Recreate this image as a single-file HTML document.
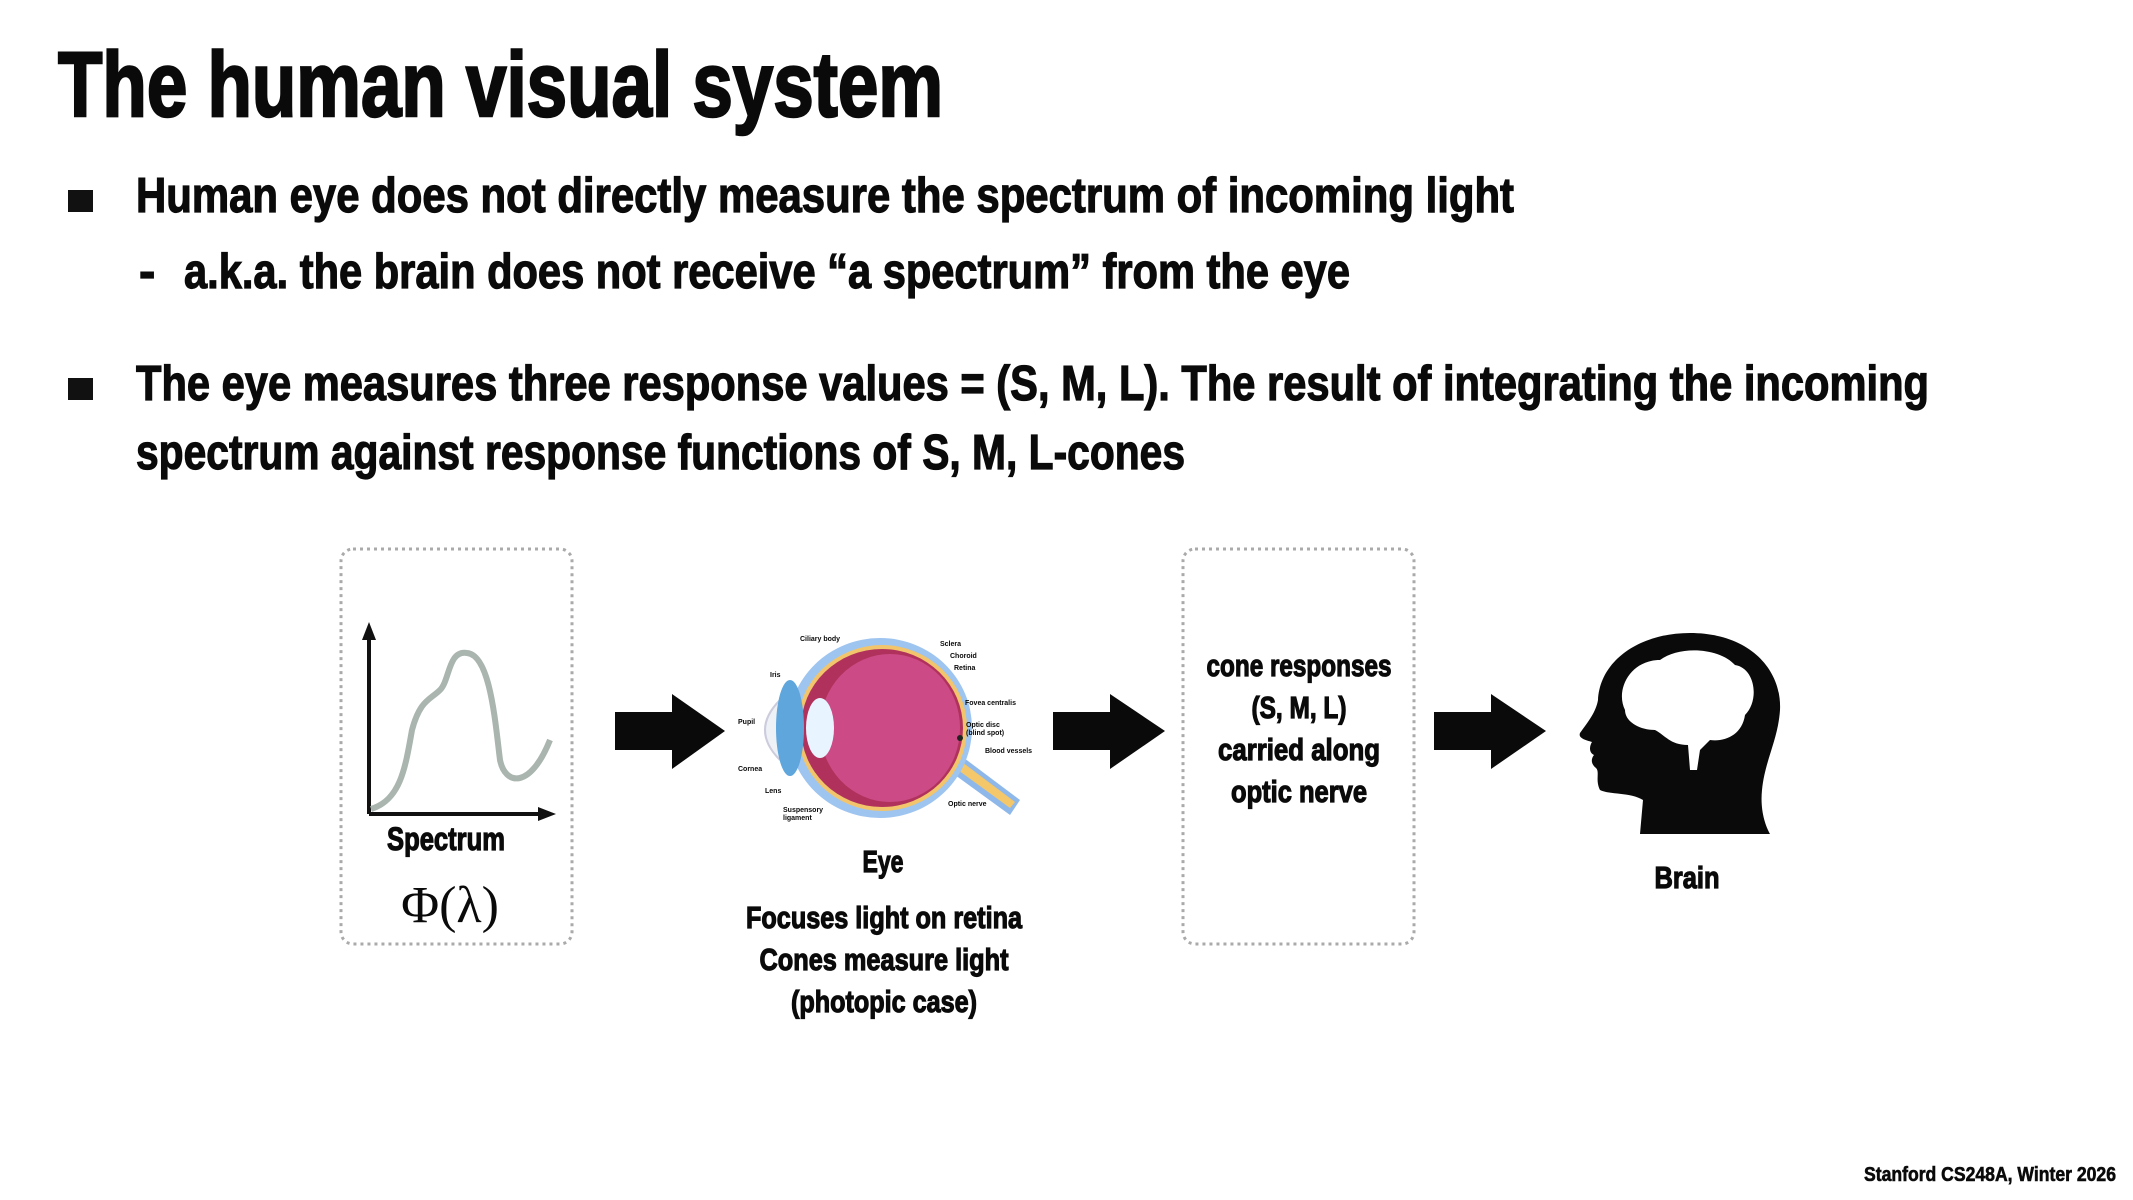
<!DOCTYPE html>
<html><head><meta charset="utf-8"><style>
html,body{margin:0;padding:0;background:#fff;}
svg{display:block;}
text{font-family:"Liberation Sans Narrow","Liberation Sans",sans-serif;font-weight:bold;fill:#0a0a0a;}
.b{stroke:#0a0a0a;stroke-width:1.2px;}
.t{stroke:#0a0a0a;stroke-width:2.5px;}
</style></head><body>
<svg width="2133" height="1200" viewBox="0 0 2133 1200" xmlns="http://www.w3.org/2000/svg">
<text class="t" x="58" y="116" font-size="92" textLength="885" lengthAdjust="spacingAndGlyphs">The human visual system</text>
<rect x="68" y="190" width="25" height="22" fill="#111"/>
<text class="b" x="136" y="212" font-size="49" textLength="1378" lengthAdjust="spacingAndGlyphs">Human eye does not directly measure the spectrum of incoming light</text>
<text class="b" x="139" y="288" font-size="49">-</text>
<text class="b" x="184" y="288" font-size="49" textLength="1166" lengthAdjust="spacingAndGlyphs">a.k.a. the brain does not receive “a spectrum” from the eye</text>
<rect x="68" y="378" width="25" height="22" fill="#111"/>
<text class="b" x="136" y="400" font-size="49" textLength="1793" lengthAdjust="spacingAndGlyphs">The eye measures three response values = (S, M, L). The result of integrating the incoming</text>
<text class="b" x="136" y="469" font-size="49" textLength="1049" lengthAdjust="spacingAndGlyphs">spectrum against response functions of S, M, L-cones</text>

<rect x="341" y="549" width="231" height="395" rx="12" fill="none" stroke="#aaa" stroke-width="3" stroke-dasharray="3 4"/>
<rect x="1183" y="549" width="231" height="395" rx="12" fill="none" stroke="#aaa" stroke-width="3" stroke-dasharray="3 4"/>

<line x1="369" y1="814" x2="369" y2="635" stroke="#111" stroke-width="4"/>
<polygon points="369,622 362,640 376,640" fill="#111"/>
<line x1="369" y1="814" x2="542" y2="814" stroke="#111" stroke-width="4"/>
<polygon points="556,814 538,807 538,821" fill="#111"/>
<path d="M371,809 C400,800 405,770 412,730 C420,700 430,700 440,690 C450,680 448,650 467,653 C490,655 495,720 500,760 C505,785 530,790 550,740" fill="none" stroke="#a9b5ae" stroke-width="6"/>
<text class="b" x="446" y="850" font-size="32" text-anchor="middle" textLength="118" lengthAdjust="spacingAndGlyphs">Spectrum</text>
<text x="450" y="922" font-size="52" text-anchor="middle" style="font-family:'Liberation Serif',serif;font-weight:normal">Φ(λ)</text>

<g fill="#0a0a0a">
<polygon points="615,712 672,712 672,694 725,731 672,769 672,750 615,750"/>
<polygon points="1053,712 1110,712 1110,694 1165,731 1110,769 1110,750 1053,750"/>
<polygon points="1434,712 1491,712 1491,694 1546,731 1491,769 1491,750 1434,750"/>
</g>

<g>
<path d="M960,755 L1020,800 L1010,815 L955,775Z" fill="#8fb8ea"/>
<path d="M962,762 L1015,802 L1010,808 L958,770Z" fill="#f3c76a"/>
<path d="M780,700 C760,720 760,740 780,760" fill="#eef2f6" stroke="#ccd" stroke-width="2"/>
<ellipse cx="880" cy="728" rx="92" ry="90" fill="#9ec4f0"/>
<ellipse cx="882" cy="728" rx="85" ry="83" fill="#f2c46c"/>
<ellipse cx="882" cy="728" rx="81" ry="79" fill="#b0325c"/>
<ellipse cx="890" cy="728" rx="70" ry="74" fill="#cc4b86"/>
<ellipse cx="790" cy="728" rx="14" ry="48" fill="#5fa6dc"/>
<ellipse cx="820" cy="728" rx="14" ry="30" fill="#e8f4ff"/>
<circle cx="960" cy="738" r="3" fill="#222"/>
<g font-size="7" style="font-weight:normal" fill="#333">
<text x="800" y="641">Ciliary body</text><text x="940" y="646">Sclera</text><text x="950" y="658">Choroid</text><text x="954" y="670">Retina</text>
<text x="770" y="677">Iris</text><text x="965" y="705">Fovea centralis</text><text x="966" y="727">Optic disc</text><text x="966" y="735">(blind spot)</text>
<text x="985" y="753">Blood vessels</text><text x="738" y="724">Pupil</text><text x="738" y="771">Cornea</text><text x="765" y="793">Lens</text>
<text x="783" y="812">Suspensory</text><text x="783" y="820">ligament</text><text x="948" y="806">Optic nerve</text>
</g>
</g>
<text class="b" x="883" y="872" font-size="31" text-anchor="middle" textLength="41" lengthAdjust="spacingAndGlyphs">Eye</text>
<text class="b" x="884" y="928" font-size="31" text-anchor="middle" textLength="276" lengthAdjust="spacingAndGlyphs">Focuses light on retina</text>
<text class="b" x="884" y="970" font-size="31" text-anchor="middle" textLength="249" lengthAdjust="spacingAndGlyphs">Cones measure light</text>
<text class="b" x="884" y="1012" font-size="31" text-anchor="middle" textLength="186" lengthAdjust="spacingAndGlyphs">(photopic case)</text>

<text class="b" x="1299" y="676" font-size="31" text-anchor="middle" textLength="185" lengthAdjust="spacingAndGlyphs">cone responses</text>
<text class="b" x="1299" y="718" font-size="31" text-anchor="middle" textLength="95" lengthAdjust="spacingAndGlyphs">(S, M, L)</text>
<text class="b" x="1299" y="760" font-size="31" text-anchor="middle" textLength="162" lengthAdjust="spacingAndGlyphs">carried along</text>
<text class="b" x="1299" y="802" font-size="31" text-anchor="middle" textLength="136" lengthAdjust="spacingAndGlyphs">optic nerve</text>

<path d="M1640,834 L1643,800 C1630,792 1610,795 1600,790 C1595,780 1600,772 1596,768 C1592,765 1590,760 1594,755 C1588,752 1590,745 1592,742 C1585,740 1578,738 1580,733 C1588,722 1596,712 1598,700 C1600,660 1640,633 1690,633 C1750,633 1782,670 1780,710 C1778,740 1765,760 1762,790 C1760,810 1765,825 1770,834 Z" fill="#0a0a0a"/>
<path d="M1625,710 C1615,690 1630,660 1660,660 C1680,645 1720,648 1735,665 C1755,668 1760,700 1745,715 C1742,735 1725,742 1710,740 L1700,750 L1697,770 L1690,770 L1688,745 C1670,745 1665,735 1655,730 C1640,730 1625,722 1625,710 Z" fill="#fff"/>
<text class="b" x="1687" y="888" font-size="31" text-anchor="middle" textLength="65" lengthAdjust="spacingAndGlyphs">Brain</text>

<text class="b" x="1864" y="1181" font-size="20" textLength="252" lengthAdjust="spacingAndGlyphs" style="stroke-width:0.6px">Stanford CS248A, Winter 2026</text>
</svg>
</body></html>
